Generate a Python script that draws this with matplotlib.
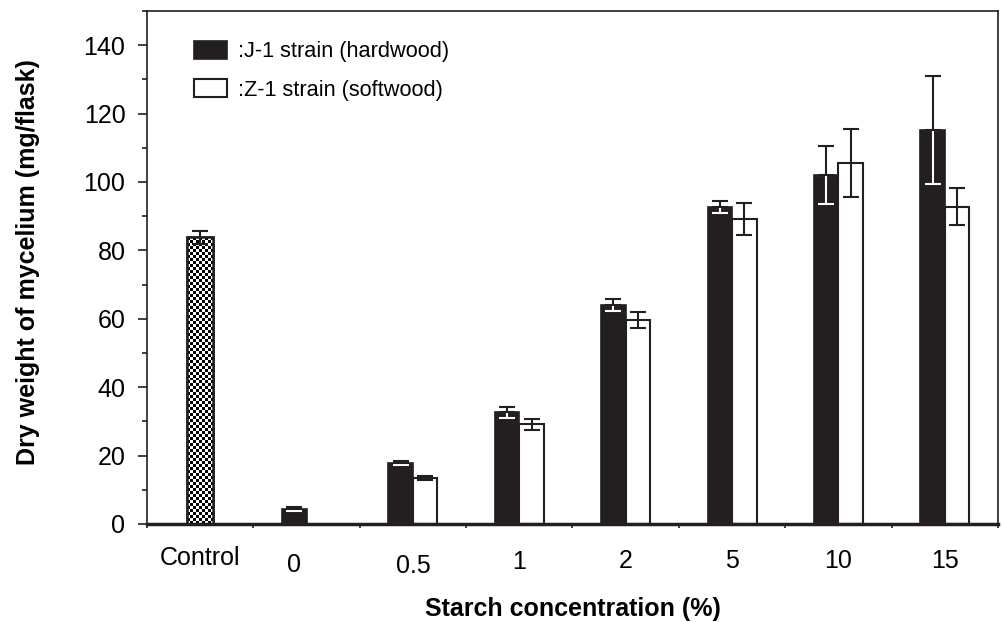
import numpy as np
import matplotlib
matplotlib.use("Agg")
import matplotlib.pyplot as plt
from matplotlib.transforms import ScaledTranslation

plt.rcParams['font.family'] = ['Liberation Sans', 'DejaVu Sans']

# ---------------- data ----------------
categories = ['Control', '0', '0.5', '1', '2', '5', '10', '15']
control_value = 83.8
control_err = 2.0
hardwood = [4.4, 17.8, 32.6, 64.0, 92.6, 102.1, 115.3]          # groups '0' .. '15'
hardwood_err = [0.6, 0.7, 1.6, 1.8, 1.75, 8.5, 15.8]
softwood = [13.4, 29.1, 59.7, 89.2, 105.5, 92.8]                 # groups '0.5' .. '15'
softwood_err = [0.5, 1.6, 2.4, 4.6, 9.9, 5.4]
yticks = [0, 20, 40, 60, 80, 100, 120, 140]
label_hardwood = ':J-1 strain (hardwood)'
label_softwood = ':Z-1 strain (softwood)'
xlabel = 'Starch concentration (%)'
ylabel = 'Dry weight of mycelium (mg/flask)'

# ---------------- figure ----------------
fig = plt.figure(figsize=(10.02, 6.22), dpi=100)
ax = fig.add_axes([0.1467, 0.1576, 0.9960 - 0.1467, 0.9823 - 0.1576])
ax.set_xlim(-0.5, len(categories) - 0.5)
ax.set_ylim(0, 150)

black = '#231f20'
w = 0.23
off = 0.115
x_all = np.arange(len(categories))
x_hard = x_all[1:] - off
x_soft = x_all[2:] + off

# control bar (checkerboard)
ctrl = ax.bar([0], [control_value], width=0.245, color='white', edgecolor=black,
              linewidth=1.8, zorder=2)
patch = ctrl.patches[0]
fig.canvas.draw()
bb = patch.get_window_extent()
ncol = max(2, int(round(bb.width / 3.0)))
nrow = max(2, int(round(bb.height / 3.0)))
cb = (np.add.outer(np.arange(nrow), np.arange(ncol)) % 2).astype(float)
im = ax.imshow(cb, cmap='gray', vmin=0, vmax=1, interpolation='nearest', aspect='auto',
               extent=[patch.get_x(), patch.get_x() + patch.get_width(), 0, control_value],
               zorder=2.5)
im.set_clip_path(patch)
ax.bar([0], [control_value], width=0.245, fill=False, edgecolor=black, linewidth=1.8, zorder=3)
ax.set_xlim(-0.5, len(categories) - 0.5)
ax.set_ylim(0, 150)
ax.errorbar([0], [control_value], yerr=[control_err], fmt='none', ecolor=black,
            elinewidth=1.5, capsize=5.5, capthick=1.5, zorder=4)

# strain bars
hb = ax.bar(x_hard, hardwood, width=w, color=black, edgecolor=black, linewidth=1.2,
            zorder=2, label=label_hardwood)
sb = ax.bar(x_soft, softwood, width=w, color='white', edgecolor=black, linewidth=1.5,
            zorder=2, label=label_softwood)

# error bars: lower half white inside dark bars, upper half dark
zeros_h = np.zeros(len(hardwood))
ax.errorbar(x_hard, hardwood, yerr=[hardwood_err, zeros_h], fmt='none', ecolor='white',
            elinewidth=1.5, capsize=5.5, capthick=1.5, zorder=4)
ax.errorbar(x_hard, hardwood, yerr=[zeros_h, hardwood_err], fmt='none', ecolor=black,
            elinewidth=1.5, capsize=5.5, capthick=1.5, zorder=5)
ax.errorbar(x_soft, softwood, yerr=softwood_err, fmt='none', ecolor=black,
            elinewidth=1.5, capsize=5.5, capthick=1.5, zorder=4)

# ---------------- axes styling ----------------
for s in ['left', 'right', 'top']:
    ax.spines[s].set_linewidth(1.2)
    ax.spines[s].set_color(black)
ax.spines['bottom'].set_linewidth(2.5)
ax.spines['bottom'].set_color(black)

ax.set_yticks(yticks)
ax.set_yticks(np.arange(10, 151, 20), minor=True)
ax.tick_params(axis='y', which='major', length=6.5, width=1.2, pad=9,
               labelsize=18, color=black)
ax.tick_params(axis='y', which='minor', length=3.6, width=1.2, color=black)

label_x = x_all.astype(float).copy()
label_x[1] = x_all[1] - off
ax.set_xticks(label_x)
ax.set_xticklabels(categories)
ax.set_xticks(np.arange(-0.5, len(categories), 1.0), minor=True)
ax.tick_params(axis='x', which='major', length=0, pad=16, labelsize=18)
ax.tick_params(axis='x', which='minor', length=3, width=1.2, color=black, direction='out')
dy_px = [0, 7, 8, 4, 3, 3, 3, 3]
for lab, d in zip(ax.get_xticklabels(), dy_px):
    lab.set_transform(lab.get_transform() + ScaledTranslation(0, -d / 100.0, fig.dpi_scale_trans))

ax.set_xlabel(xlabel, fontsize=18, fontweight='bold')
ax.xaxis.set_label_coords(0.5, -0.143)
ax.set_ylabel(ylabel, fontsize=18, fontweight='bold')
ax.yaxis.set_label_coords(-0.126, 0.51)

leg = ax.legend(handles=[hb, sb], loc='upper left', bbox_to_anchor=(0.055, 0.942),
                frameon=False, fontsize=15.7, handlelength=1.53, handleheight=0.88,
                handletextpad=0.5, labelspacing=0.78, borderpad=0, borderaxespad=0)

fig.savefig('out.png', dpi=100)
